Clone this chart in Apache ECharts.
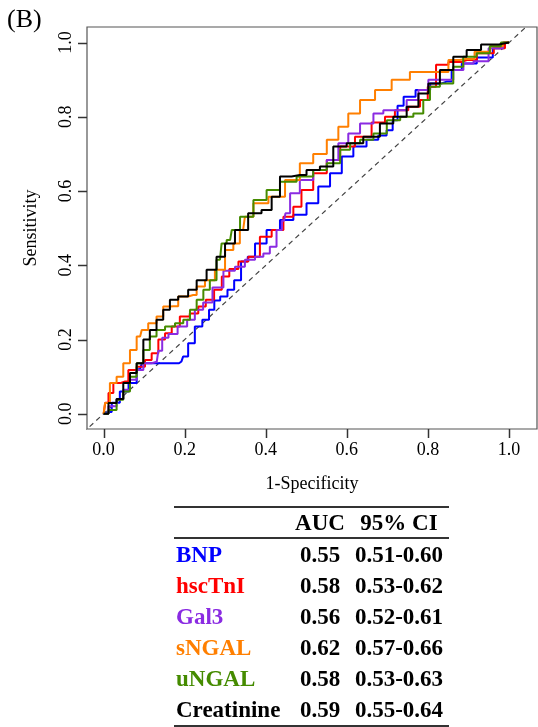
<!DOCTYPE html>
<html>
<head>
<meta charset="utf-8">
<script src="https://cdn.jsdelivr.net/npm/echarts@6/dist/echarts.min.js"></script>
<style>
html,body{margin:0;padding:0;background:#fff;}
#main{width:538px;height:727px;}
</style>
</head>
<body>
<div id="main"></div>
<script>
// ---- data ----
const tickValues = [0, 0.2, 0.4, 0.6, 0.8, 1.0];
const seriesNames = ['BNP', 'hscTnI', 'Gal3', 'sNGAL', 'uNGAL', 'Creatinine'];
const aucValues = ['0.55', '0.58', '0.56', '0.62', '0.58', '0.59'];
const ciValues = ['0.51-0.60', '0.53-0.62', '0.52-0.61', '0.57-0.66', '0.53-0.63', '0.55-0.64'];
const tableHeader = ['AUC', '95% CI'];

const bnp = [[0,0],[0.01,0.005],[0.03,0.03],[0.05,0.06],[0.073,0.083],[0.09,0.12],[0.098,0.136],[0.14,0.136],[0.18,0.136],[0.192,0.141],[0.2,0.154],[0.217,0.19],[0.233,0.235],[0.254,0.253],[0.266,0.28],[0.28,0.305],[0.295,0.316],[0.316,0.334],[0.328,0.36],[0.35,0.41],[0.361,0.423],[0.386,0.459],[0.418,0.495],[0.452,0.522],[0.484,0.536],[0.517,0.567],[0.542,0.612],[0.575,0.648],[0.60,0.693],[0.632,0.72],[0.665,0.738],[0.69,0.75],[0.706,0.764],[0.72,0.791],[0.73,0.83],[0.75,0.854],[0.789,0.872],[0.822,0.89],[0.846,0.895],[0.871,0.926],[0.896,0.944],[0.945,0.96],[0.975,0.985],[1,1]];
const hsctni = [[0,0],[0.008,0.03],[0.016,0.056],[0.032,0.083],[0.053,0.087],[0.069,0.118],[0.094,0.127],[0.11,0.145],[0.127,0.163],[0.143,0.2],[0.16,0.217],[0.176,0.235],[0.2,0.262],[0.225,0.27],[0.242,0.289],[0.262,0.307],[0.283,0.334],[0.3,0.37],[0.32,0.39],[0.345,0.41],[0.369,0.423],[0.402,0.477],[0.427,0.495],[0.46,0.531],[0.476,0.558],[0.50,0.603],[0.534,0.648],[0.567,0.684],[0.60,0.72],[0.64,0.746],[0.682,0.785],[0.706,0.80],[0.731,0.818],[0.772,0.827],[0.789,0.845],[0.81,0.881],[0.83,0.94],[0.871,0.948],[0.896,0.953],[0.945,0.971],[0.98,0.985],[1,1]];
const gal3 = [[0,0],[0.024,0.02],[0.04,0.04],[0.057,0.065],[0.073,0.092],[0.09,0.118],[0.106,0.136],[0.131,0.14],[0.139,0.17],[0.15,0.205],[0.17,0.215],[0.195,0.235],[0.217,0.253],[0.233,0.28],[0.258,0.3],[0.279,0.34],[0.312,0.385],[0.336,0.396],[0.361,0.415],[0.386,0.423],[0.402,0.432],[0.418,0.45],[0.435,0.495],[0.445,0.52],[0.452,0.54],[0.468,0.594],[0.50,0.63],[0.534,0.657],[0.567,0.684],[0.591,0.729],[0.616,0.755],[0.649,0.782],[0.682,0.809],[0.698,0.818],[0.731,0.818],[0.764,0.845],[0.789,0.872],[0.813,0.90],[0.846,0.90],[0.879,0.926],[0.896,0.944],[0.929,0.95],[0.97,0.985],[1,1]];
const sngal = [[0,0],[0.007,0.029],[0.024,0.083],[0.04,0.1],[0.057,0.136],[0.073,0.172],[0.09,0.208],[0.098,0.226],[0.122,0.244],[0.139,0.262],[0.155,0.289],[0.172,0.29],[0.196,0.316],[0.221,0.32],[0.238,0.343],[0.262,0.36],[0.287,0.388],[0.312,0.441],[0.328,0.459],[0.344,0.495],[0.353,0.531],[0.386,0.567],[0.427,0.585],[0.468,0.63],[0.50,0.675],[0.534,0.70],[0.567,0.738],[0.591,0.773],[0.616,0.809],[0.649,0.845],[0.69,0.872],[0.731,0.90],[0.78,0.921],[0.838,0.921],[0.863,0.953],[0.893,0.956],[0.937,0.975],[0.97,0.99],[1,1]];
const ungal = [[0,0],[0.024,0.01],[0.04,0.038],[0.057,0.06],[0.073,0.1],[0.09,0.136],[0.106,0.172],[0.122,0.208],[0.139,0.226],[0.164,0.235],[0.188,0.244],[0.205,0.253],[0.221,0.28],[0.238,0.307],[0.254,0.334],[0.27,0.36],[0.287,0.415],[0.295,0.459],[0.312,0.468],[0.32,0.495],[0.353,0.531],[0.386,0.576],[0.418,0.603],[0.452,0.625],[0.50,0.639],[0.534,0.657],[0.567,0.675],[0.60,0.711],[0.616,0.729],[0.649,0.738],[0.682,0.755],[0.715,0.791],[0.748,0.80],[0.78,0.809],[0.797,0.845],[0.813,0.881],[0.846,0.89],[0.879,0.935],[0.895,0.962],[0.945,0.971],[0.96,0.99],[1,1]];
const creatinine = [[0,0],[0.024,0.029],[0.04,0.04],[0.057,0.083],[0.073,0.11],[0.09,0.136],[0.106,0.2],[0.122,0.226],[0.139,0.253],[0.155,0.28],[0.172,0.307],[0.196,0.316],[0.221,0.334],[0.238,0.36],[0.27,0.388],[0.287,0.423],[0.312,0.459],[0.336,0.495],[0.377,0.54],[0.402,0.549],[0.427,0.585],[0.443,0.639],[0.484,0.643],[0.517,0.657],[0.55,0.666],[0.583,0.72],[0.616,0.729],[0.665,0.746],[0.698,0.782],[0.731,0.80],[0.764,0.827],[0.789,0.863],[0.813,0.89],[0.846,0.926],[0.879,0.962],[0.912,0.98],[0.95,0.995],[1,1]];
const chanceLine = [[-0.1,-0.1],[1.2,1.2]];

const seriesData = [bnp, hsctni, gal3, sngal, ungal, creatinine];
const seriesColors = ['#0000FF', '#FF0000', '#8A2BE2', '#FF7F00', '#458B00', '#000000'];

// ---- layout ----
const FONT = 'Liberation Serif';
const X_MIN = -0.041, X_MAX = 1.069, Y_MIN = -0.041, Y_MAX = 1.042;
const TICK_LEN = 9;
const tableX = { left: 174, right: 449, name: 176, auc: 320, ci: 399 };
const tableY = { top: 507, header: 524, headLine: 538, firstRow: 556, rowGap: 31, bottom: 726 };

const chart = echarts.init(document.getElementById('main'), null, { renderer: 'canvas' });

const lineSeries = seriesData.map((d, i) => ({
  name: seriesNames[i],
  type: 'line',
  data: d,
  symbol: 'none',
  step: 'middle',
  lineStyle: { color: seriesColors[i], width: 2 },
  clip: true,
  z: 3 + i
}));
lineSeries.unshift({
  type: 'line',
  data: chanceLine,
  symbol: 'none',
  lineStyle: { color: '#444', width: 1.2, type: [5, 4] },
  clip: true,
  z: 2
});

const graphics = [];
graphics.push({ id: 'panel', type: 'text', left: 7, top: 7, style: { text: '(B)', font: '26px ' + FONT, fill: '#000' } });
[tableY.top, tableY.headLine, tableY.bottom].forEach((y, k) => {
  graphics.push({ id: 'rule' + k, type: 'line', shape: { x1: tableX.left, y1: y, x2: tableX.right, y2: y }, style: { stroke: '#333', lineWidth: 2 } });
});
graphics.push({ id: 'hAUC', type: 'text', x: tableX.auc, y: tableY.header, style: { text: tableHeader[0], font: 'bold 23px ' + FONT, fill: '#000', align: 'center', verticalAlign: 'middle' } });
graphics.push({ id: 'hCI', type: 'text', x: tableX.ci, y: tableY.header, style: { text: tableHeader[1], font: 'bold 23px ' + FONT, fill: '#000', align: 'center', verticalAlign: 'middle' } });
seriesNames.forEach((n, i) => {
  const y = tableY.firstRow + i * tableY.rowGap;
  graphics.push({ id: 'n' + i, type: 'text', x: tableX.name, y: y, style: { text: n, font: 'bold 23px ' + FONT, fill: seriesColors[i], align: 'left', verticalAlign: 'middle' } });
  graphics.push({ id: 'a' + i, type: 'text', x: tableX.auc, y: y, style: { text: aucValues[i], font: 'bold 23px ' + FONT, fill: '#000', align: 'center', verticalAlign: 'middle' } });
  graphics.push({ id: 'c' + i, type: 'text', x: tableX.ci, y: y, style: { text: ciValues[i], font: 'bold 23px ' + FONT, fill: '#000', align: 'center', verticalAlign: 'middle' } });
});

const axisText = { fontFamily: FONT, fontSize: 18, color: '#000' };

chart.setOption({
  animation: false,
  backgroundColor: '#fff',
  grid: { left: 87, top: 27, right: 1, bottom: 298, show: true, borderColor: '#555', borderWidth: 1.2, backgroundColor: 'transparent' },
  xAxis: {
    type: 'value', min: X_MIN, max: X_MAX,
    name: '1-Specificity', nameLocation: 'middle', nameGap: 46,
    nameTextStyle: axisText,
    axisLine: { show: false, onZero: false },
    splitLine: { show: false },
    axisTick: { show: false },
    axisLabel: { ...axisText, margin: 12, customValues: tickValues, formatter: v => v.toFixed(1) }
  },
  yAxis: {
    type: 'value', min: Y_MIN, max: Y_MAX,
    name: 'Sensitivity', nameLocation: 'middle', nameGap: 47, nameRotate: 90,
    nameTextStyle: axisText,
    axisLine: { show: false, onZero: false },
    splitLine: { show: false },
    axisTick: { show: false },
    axisLabel: { ...axisText, margin: 12, rotate: 90, customValues: tickValues, formatter: v => v.toFixed(1) }
  },
  series: lineSeries,
  graphic: graphics
});

// axis tick marks placed through the chart's own scales
const tickGraphics = [];
const bottomPx = chart.convertToPixel({ yAxisIndex: 0 }, Y_MIN);
const leftPx = chart.convertToPixel({ xAxisIndex: 0 }, X_MIN);
tickValues.forEach((v, k) => {
  const px = Math.round(chart.convertToPixel({ xAxisIndex: 0 }, v)) + 0.5;
  const py = Math.round(chart.convertToPixel({ yAxisIndex: 0 }, v)) + 0.5;
  tickGraphics.push({ id: 'xt' + k, type: 'line', z: 50, shape: { x1: px, y1: bottomPx, x2: px, y2: bottomPx + TICK_LEN }, style: { stroke: '#333', lineWidth: 1.5 } });
  tickGraphics.push({ id: 'yt' + k, type: 'line', z: 50, shape: { x1: leftPx - TICK_LEN, y1: py, x2: leftPx, y2: py }, style: { stroke: '#333', lineWidth: 1.5 } });
});
chart.setOption({ graphic: tickGraphics });
</script>
</body>
</html>
